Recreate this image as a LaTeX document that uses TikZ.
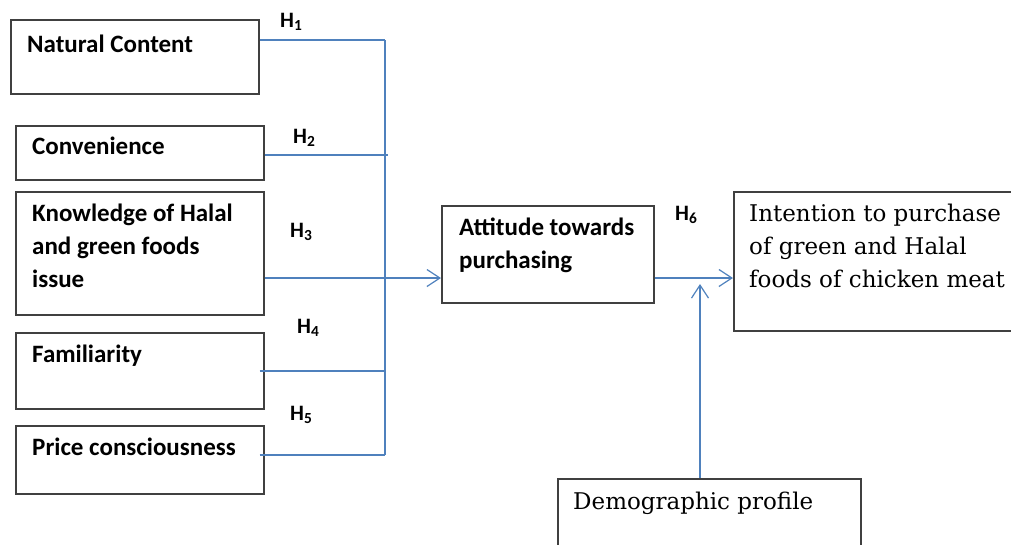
\documentclass[tikz,border=0pt]{standalone}
\usepackage{fontspec}
\setmainfont{Carlito}
\newfontfamily\cambriaish{DejaVu Serif}
\usetikzlibrary{arrows.meta,calc}

\definecolor{linkblue}{RGB}{79,129,189}
\definecolor{boxgray}{RGB}{64,64,64}

\tikzset{
  factorbox/.style={draw=boxgray,line width=1.6pt,rectangle,inner sep=0pt,anchor=north west},
  boxtext/.style={inner sep=0pt,anchor=base west,align=left,font=\fontsize{25}{33}\selectfont\bfseries},
  serftext/.style={inner sep=0pt,anchor=base west,align=left,font=\fontsize{23}{33}\selectfont\cambriaish},
  hyplabel/.style={inner sep=0pt,anchor=base west,font=\fontsize{22}{24}\selectfont\bfseries},
  link/.style={draw=linkblue,line width=1.3pt},
  linkarrow/.style={link,-{Straight Barb[length=13pt,width=17pt,line width=1.2pt]}}
}

\begin{document}
\begin{tikzpicture}[x=1pt,y=1pt,yscale=-1,xscale=1]
\useasboundingbox (0,0) rectangle (1011,544);

%Shape: Rectangle [id:nc]
\node [factorbox,minimum width=248pt,minimum height=74pt] (nc) at (10,19) {};
%Shape: Rectangle [id:cv]
\node [factorbox,minimum width=248pt,minimum height=54pt] (cv) at (15,125) {};
%Shape: Rectangle [id:kn]
\node [factorbox,minimum width=248pt,minimum height=123pt] (kn) at (15,191) {};
%Shape: Rectangle [id:fm]
\node [factorbox,minimum width=248pt,minimum height=76pt] (fm) at (15,332) {};
%Shape: Rectangle [id:pc]
\node [factorbox,minimum width=248pt,minimum height=68pt] (pc) at (15,425) {};
%Shape: Rectangle [id:att]
\node [factorbox,minimum width=212pt,minimum height=97pt] (att) at (441,205) {};
%Shape: Rectangle [id:int]
\node [factorbox,minimum width=292pt,minimum height=139pt] (int) at (733,191) {};
%Shape: Rectangle [id:dem]
\node [factorbox,minimum width=303pt,minimum height=92pt] (dem) at (557,478) {};

%Bus points
\coordinate (b1) at (385,40);
\coordinate (b2) at (388,155);
\coordinate (b3) at (385,278);
\coordinate (b4) at (385,371);
\coordinate (b5) at (385,455);
\coordinate (dtip) at (700,284);

%Straight Lines [id:bus]
\draw [link] (b1) -- (b5) ;
%Straight Lines [id:h1]
\draw [link] (nc.east |- b1) -- (b1) ;
%Straight Lines [id:h2]
\draw [link] (cv.east |- b2) -- (b2) ;
%Straight Lines [id:h3]
\draw [link] (kn.east |- b3) -- (b3) ;
%Straight Lines [id:h4]
\draw [link] ([xshift=-5pt]fm.east |- b4) -- (b4) ;
%Straight Lines [id:h5]
\draw [link] ([xshift=-5pt]pc.east |- b5) -- (b5) ;
%Straight Lines [id:toatt]
\draw [linkarrow] (b3) -- (att.west |- b3) ;
%Straight Lines [id:h6]
\draw [linkarrow] (att.east |- b3) -- (int.west |- b3) ;
%Straight Lines [id:demo]
\draw [linkarrow] (dem.north -| dtip) -- (dtip) ;

% Text Node
\node [boxtext] (tnc) at (27,52) {Natural Content};
% Text Node
\node [boxtext] (tcv) at (32,154) {Convenience};
% Text Node
\node [boxtext] (tkn) at (32,287) {Knowledge of Halal\\and green foods\\issue};
% Text Node
\node [boxtext] (tfm) at (32,362) {Familiarity};
% Text Node
\node [boxtext] (tpc) at (32,455) {Price consciousness};
% Text Node
\node [boxtext] (tatt) at (459,268) {Attitude towards\\purchasing};
% Text Node
\node [serftext] (tint) at (749,287) {Intention to purchase\\of green and Halal\\foods of chicken meat};
% Text Node
\node [serftext] (tdem) at (573,509) {Demographic profile};

% Text Node
\node [hyplabel] (h1) at (280,27) {H\textsubscript{1}};
% Text Node
\node [hyplabel] (h2) at (293,143) {H\textsubscript{2}};
% Text Node
\node [hyplabel] (h3) at (290,237) {H\textsubscript{3}};
% Text Node
\node [hyplabel] (h4) at (297,333) {H\textsubscript{4}};
% Text Node
\node [hyplabel] (h5) at (290,420) {H\textsubscript{5}};
% Text Node
\node [hyplabel] (h6) at (675,220) {H\textsubscript{6}};

\end{tikzpicture}
\end{document}
